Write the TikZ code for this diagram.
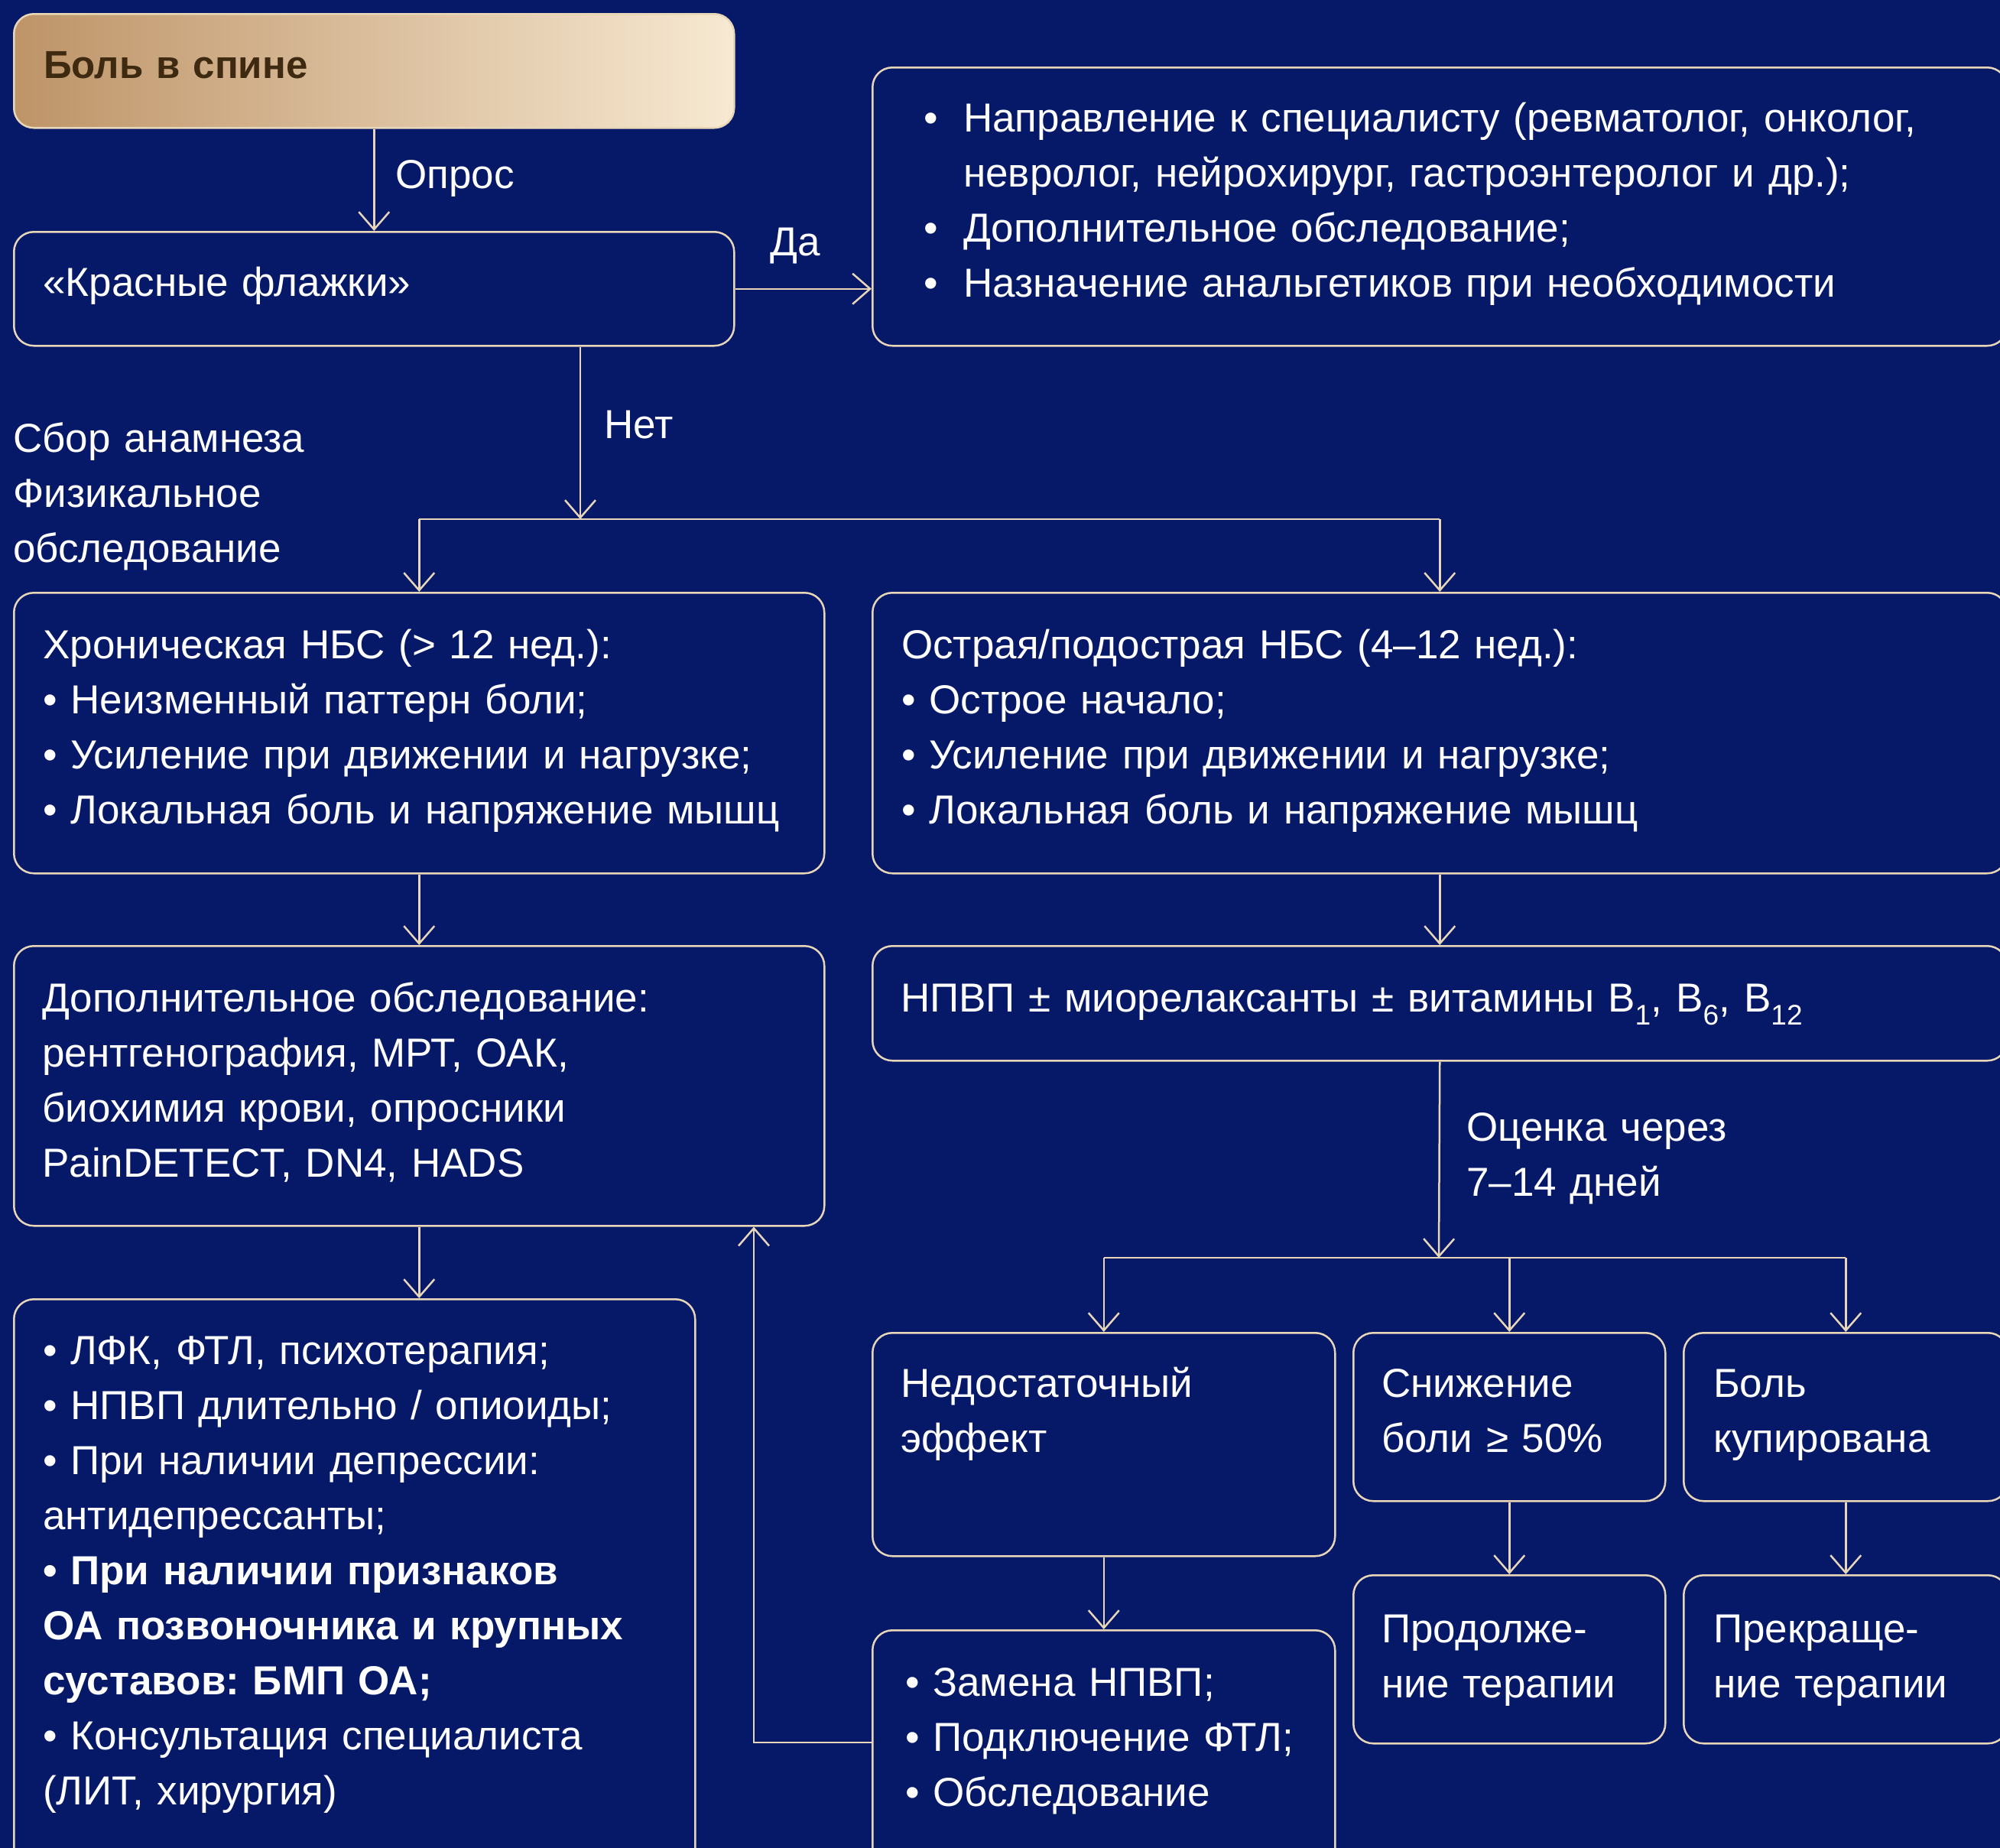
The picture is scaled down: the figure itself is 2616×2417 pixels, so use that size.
\documentclass[tikz,border=0pt]{standalone}
\usepackage{fontspec}
\setmainfont{Liberation Sans}
\usetikzlibrary{arrows.meta,calc}
\definecolor{bg}{RGB}{6,24,104}
\definecolor{edge}{RGB}{232,214,184}
\definecolor{tanA}{RGB}{190,148,104}
\definecolor{tanB}{RGB}{247,233,210}
\definecolor{brownT}{RGB}{62,42,16}
\frenchspacing
\begin{document}
\begin{tikzpicture}[x=1pt,y=-1pt,
  box/.style={draw=edge, line width=2.5pt, rounded corners=26pt, fill=bg, inner sep=0pt, anchor=north west},
  txt/.style={anchor=north west, inner sep=0pt, align=left, text=white, text width=1400pt, font=\fontsize{53}{72}\selectfont},
  conn/.style={draw=edge, line width=2.5pt},
  arr/.style={conn, -{Straight Barb[length=23pt,width=40pt]}},
]
\useasboundingbox (0,0) rectangle (2616,2417);
\fill[bg] (0,0) rectangle (2616,2417);
\clip (0,0) rectangle (2616,2417);

% boxes
\node[box, draw=edge, left color=tanA, right color=tanB, minimum width=942pt, minimum height=149pt] (top) at (17,17) {};
\node[box, minimum width=942pt, minimum height=149pt] (flags) at (17,302) {};
\node[box, minimum width=1484pt, minimum height=364pt] (rbox) at (1140,87) {};
\node[box, minimum width=1060pt, minimum height=367pt] (chron) at (17,774) {};
\node[box, minimum width=1484pt, minimum height=367pt] (acute) at (1140,774) {};
\node[box, minimum width=1060pt, minimum height=366pt] (addl) at (17,1236) {};
\node[box, minimum width=1484pt, minimum height=150pt] (nsaid) at (1140,1236) {};
\node[box, minimum width=891pt, minimum height=760pt] (ther) at (17,1698) {};
\node[box, minimum width=605pt, minimum height=292pt] (insuf) at (1140,1742) {};
\node[box, minimum width=408pt, minimum height=220pt] (reduce) at (1769,1742) {};
\node[box, minimum width=424pt, minimum height=220pt] (resolv) at (2201,1742) {};
\node[box, minimum width=605pt, minimum height=330pt] (repl) at (1140,2131) {};
\node[box, minimum width=408pt, minimum height=220pt] (cont) at (1769,2059) {};
\node[box, minimum width=424pt, minimum height=220pt] (stopb) at (2201,2059) {};

% junctions
\coordinate (j1) at (759,679);
\coordinate (j2) at (1882,1645);
\coordinate (fb) at (986,2279);

% connectors
\draw[arr] (top.south) -- (flags.north);
\draw[arr] (flags.east) -- (flags.east -| rbox.west);
\draw[arr] (flags.south -| j1) -- (j1);
\draw[conn] (chron.north |- j1) -- (acute.north |- j1);
\draw[arr] (chron.north |- j1) -- (chron.north);
\draw[arr] (acute.north |- j1) -- (acute.north);
\draw[arr] (chron.south) -- (addl.north);
\draw[arr] (acute.south) -- (nsaid.north);
\draw[arr] (nsaid.south) -- (j2);
\draw[conn] (insuf.north |- j2) -- (resolv.north |- j2);
\draw[arr] (insuf.north |- j2) -- (insuf.north);
\draw[arr] (reduce.north |- j2) -- (reduce.north);
\draw[arr] (resolv.north |- j2) -- (resolv.north);
\draw[arr] (addl.south) -- (addl.south |- ther.north);
\draw[arr] (insuf.south) -- (repl.north);
\draw[arr] (reduce.south) -- (cont.north);
\draw[arr] (resolv.south) -- (stopb.north);
\draw[arr] (repl.west |- fb) -- (fb) -- (fb |- addl.south);

% texts
\node[txt, text=brownT, font=\fontsize{51}{72}\selectfont\bfseries] (t-top) at (57,51.6) {\strut Боль в спине};
\node[txt] (l-opros) at (517,195.6) {\strut Опрос};
\node[txt] (t-flags) at (56,336.6) {\strut «Красные флажки»};
\node[txt] (l-da) at (1007,283.6) {\strut Да};
\node[txt] (t-rbox) at (1208,121.6) {\strut\makebox[52pt][l]{•}Направление к специалисту (ревматолог, онколог,\\
\hspace*{52pt}невролог, нейрохирург, гастроэнтеролог и др.);\\
\makebox[52pt][l]{•}Дополнительное обследование;\\
\makebox[52pt][l]{•}Назначение анальгетиков при необходимости};
\node[txt] (l-net) at (790,522.6) {\strut Нет};
\node[txt] (l-sbor) at (17,540.6) {\strut Сбор анамнеза\\Физикальное\\обследование};
\node[txt] (t-chron) at (56,810.6) {\strut Хроническая НБС (> 12 нед.):\\• Неизменный паттерн боли;\\• Усиление при движении и нагрузке;\\• Локальная боль и напряжение мышц};
\node[txt] (t-acute) at (1179,810.6) {\strut Острая/подострая НБС (4–12 нед.):\\• Острое начало;\\• Усиление при движении и нагрузке;\\• Локальная боль и напряжение мышц};
\node[txt] (t-addl) at (55,1272.6) {\strut Дополнительное обследование:\\рентгенография, МРТ, ОАК,\\биохимия крови, опросники\\PainDETECT, DN4, HADS};
\node[txt] (t-nsaid) at (1178,1272.6) {\strut НПВП ± миорелаксанты ± витамины B\textsubscript{1}, B\textsubscript{6}, B\textsubscript{12}};
\node[txt] (l-ocen) at (1918,1441.6) {\strut Оценка через\\7–14 дней};
\node[txt] (t-ther) at (56,1733.6) {\strut • ЛФК, ФТЛ, психотерапия;\\• НПВП длительно / опиоиды;\\• При наличии депрессии:\\антидепрессанты;\\\textbf{• При наличии признаков}\\\textbf{ОА позвоночника и крупных}\\\textbf{суставов: БМП ОА;}\\• Консультация специалиста\\(ЛИТ, хирургия)};
\node[txt] (t-insuf) at (1178,1776.6) {\strut Недостаточный\\эффект};
\node[txt] (t-reduce) at (1807,1776.6) {\strut Снижение\\боли ≥ 50\%};
\node[txt] (t-resolv) at (2241,1776.6) {\strut Боль\\купирована};
\node[txt] (t-cont) at (1807,2097.6) {\strut Продолже-\\ние терапии};
\node[txt] (t-stop) at (2241,2097.6) {\strut Прекраще-\\ние терапии};
\node[txt] (t-repl) at (1184,2167.6) {\strut • Замена НПВП;\\• Подключение ФТЛ;\\• Обследование};
\end{tikzpicture}
\end{document}
